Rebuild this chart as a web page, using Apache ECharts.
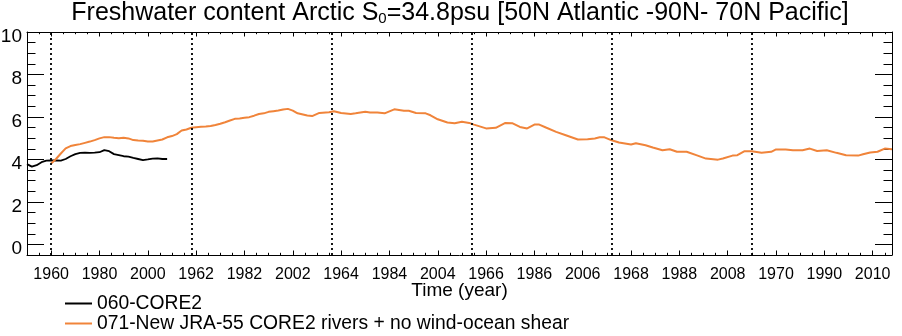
<!DOCTYPE html>
<html><head><meta charset="utf-8">
<script src="https://cdn.jsdelivr.net/npm/echarts@6/dist/echarts.min.js"></script>
<style>html,body{margin:0;padding:0;background:#fff}#c{width:902px;height:336px}</style>
</head><body><div id="c"></div>
<script>
// ---- data ----
const xTickYears = [1960,1980,2000,2020,2040,2060,2080,2100,2120,2140,2160,2180,2200,2220,2240,2260,2280,2300];
const xTickLabels = ['1960','1980','2000','1962','1982','2002','1964','1984','2004','1966','1986','2006','1968','1988','2008','1970','1990','2010'];
const yMajorTicks = [0,2,4,6,8,10];
const yMinorTicks = [0.5,1,1.5,2.5,3,3.5,4.5,5,5.5,6.5,7,7.5,8.5,9,9.5];
const cycleStarts = [1960,2018,2076,2134,2192,2250];

const blackYears = [1950,1952,1954,1956,1958,1960,1962,1964,1966,1968,1970,1972,1974,1976,1978,1980,1982,1984,1986,1988,1990,1992,1994,1996,1998,2000,2002,2004,2006,2008];
const blackValues = [3.78,3.66,3.73,3.87,3.94,3.95,3.95,3.94,4.02,4.15,4.25,4.31,4.32,4.31,4.32,4.34,4.44,4.39,4.25,4.20,4.15,4.13,4.07,4.02,3.97,4.00,4.04,4.05,4.02,4.02];

const orangeYears = [1960,1962,1964,1966,1968,1970,1972,1974,1976,1978,1980,1982,1984,1986,1988,1990,1992,1994,1996,1998,2000,2002,2004,2006,2008,2010,2012,2014,2016,2018,2020,2022,2024,2026,2028,2030,2032,2034,2036,2038,2040,2042,2044,2046,2048,2050,2052,2054,2056,2058,2060,
 2062,2066,2068,2071,2075,2077,2080,2084,2086,2090,2092,2095,2098,2102,2106,2108,2111,2115,2117,2120,2124,2127,2130,2133,2135,2140,2144,2148,2151,2154,2157,2160,2162,2165,2169,2173,2178,2182,2185,2187,2189,2192,2195,2200,2202,2206,2209,2213,2216,2219,2223,2227,2231,2236,2238,2242,2244,2247,2250,2254,2258,2260,2264,2267,2271,2274,2277,2281,2285,2289,2294,2296,2299,2302,2305,2308];
const orangeValues = [3.81,4.02,4.28,4.52,4.63,4.68,4.72,4.78,4.84,4.91,4.99,5.05,5.05,5.02,5.00,5.02,4.99,4.91,4.89,4.88,4.84,4.84,4.89,4.94,5.04,5.10,5.19,5.36,5.41,5.49,5.52,5.54,5.55,5.57,5.62,5.68,5.75,5.83,5.91,5.93,5.96,5.99,6.06,6.14,6.17,6.24,6.27,6.30,6.35,6.38,6.30,
 6.17,6.07,6.04,6.19,6.22,6.27,6.19,6.14,6.17,6.24,6.21,6.21,6.17,6.36,6.29,6.29,6.19,6.17,6.08,5.89,5.74,5.70,5.77,5.72,5.64,5.46,5.49,5.72,5.70,5.53,5.46,5.64,5.64,5.49,5.30,5.14,4.94,4.95,4.99,5.04,5.04,4.90,4.80,4.70,4.76,4.67,4.56,4.43,4.48,4.36,4.36,4.20,4.04,3.99,4.04,4.18,4.20,4.39,4.39,4.31,4.36,4.47,4.47,4.43,4.43,4.51,4.40,4.43,4.31,4.20,4.18,4.24,4.33,4.36,4.51,4.48];

const seriesNames = ['060-CORE2','071-New JRA-55 CORE2 rivers + no wind-ocean shear'];
const titleParts = ['Freshwater content Arctic S','0','=34.8psu [50N Atlantic -90N- 70N Pacific]'];

// ---- chart ----
const X_MIN = 1950, X_MAX = 2308, Y_MIN = -0.5, Y_MAX = 10;
const FONT = "'Liberation Sans', Arial, Helvetica, sans-serif";
const NARROW = "'Liberation Sans Narrow', 'Liberation Sans', Arial, sans-serif";
const minorX = [];
for (let v = 1955; v < X_MAX; v += 5) minorX.push(v);

const box = {left:27, right:10, top:32, bottom:81, containLabel:false, outerBoundsMode:'none'};
const line = {show:true, onZero:false, lineStyle:{color:'#000', width:1}};
const noLine = {show:false, onZero:false};

function xAx(grid, pos, ticks, len, showLine, label) {
  return {
    gridIndex:grid, type:'value', position:pos, min:X_MIN, max:X_MAX,
    axisLine: showLine ? line : noLine,
    axisTick:{show:true, inside:true, length:len, customValues:ticks, lineStyle:{color:'#000', width:1}},
    axisLabel: label || {show:false},
    splitLine:{show:false}
  };
}
function yAx(grid, pos, ticks, len, showLine, label) {
  return {
    gridIndex:grid, type:'value', position:pos, min:Y_MIN, max:Y_MAX,
    axisLine: showLine ? line : noLine,
    axisTick:{show:true, inside:true, length:len, customValues:ticks, lineStyle:{color:'#000', width:1}},
    axisLabel: label || {show:false},
    splitLine:{show:false}
  };
}

const xMain = xAx(0, 'bottom', xTickYears, 4.5, true, {
  show:true, customValues:xTickYears, margin:12, fontSize:16, fontFamily:NARROW, color:'#000',
  formatter: v => { const i = xTickYears.indexOf(Math.round(v)); return i >= 0 ? xTickLabels[i] : ''; }
});
xMain.name = 'Time (year)';
xMain.nameLocation = 'middle';
xMain.nameGap = 26;
xMain.nameMoveOverlap = false;
xMain.nameTextStyle = {fontSize:19, fontFamily:FONT, color:'#000'};

const option = {
  animation:false,
  backgroundColor:'#fff',
  title:{
    text:'{a|' + titleParts[0] + '}{s|' + titleParts[1] + '}{a|' + titleParts[2] + '}',
    left:460, textAlign:'center', top:0, padding:0,
    textStyle:{fontWeight:'normal', rich:{
      a:{fontSize:25, fontFamily:FONT, fontWeight:'normal', color:'#000', lineHeight:26},
      s:{fontSize:15, fontFamily:FONT, fontWeight:'normal', color:'#000', lineHeight:10, verticalAlign:'bottom'}
    }}
  },
  legend:{
    left:65, top:293.5, orient:'vertical', padding:0, itemGap:0, itemWidth:27, itemHeight:2, icon:'rect',
    data: seriesNames,
    textStyle:{fontSize:19.3, fontFamily:FONT, color:'#000', lineHeight:20}
  },
  grid:[Object.assign({}, box), Object.assign({}, box)],
  xAxis:[
    xMain,
    xAx(0, 'top', xTickYears, 4.5, true),
    xAx(1, 'bottom', minorX, 2.2, false),
    xAx(1, 'top', minorX, 2.2, false)
  ],
  yAxis:[
    yAx(0, 'left', yMajorTicks, 17, true, {show:true, customValues:yMajorTicks, margin:5, fontSize:19, fontFamily:FONT, color:'#000', verticalAlign:'top', lineHeight:9}),
    yAx(0, 'right', yMajorTicks, 17, true),
    yAx(1, 'left', yMinorTicks, 8.5, false),
    yAx(1, 'right', yMinorTicks, 8.5, false)
  ],
  series:[
    {
      type:'line', name:seriesNames[0], xAxisIndex:0, yAxisIndex:0,
      data: blackYears.map((t, i) => [t, blackValues[i]]),
      symbol:'none', lineStyle:{color:'#000', width:1.8}, itemStyle:{color:'#000'}, z:3
    },
    {
      type:'line', name:seriesNames[1], xAxisIndex:0, yAxisIndex:0,
      data: orangeYears.map((t, i) => [t, orangeValues[i]]),
      symbol:'none', lineStyle:{color:'#f0843a', width:2}, itemStyle:{color:'#f0843a'}, z:4,
      markLine:{
        silent:true, animation:false, symbol:['none','none'], label:{show:false},
        lineStyle:{color:'#000', type:[2,3], width:1.8},
        data: cycleStarts.map(v => ({xAxis:v}))
      }
    }
  ]
};
const chart = echarts.init(document.getElementById('c'), null, {renderer:'canvas'});
chart.setOption(option);
</script>
</body></html>
